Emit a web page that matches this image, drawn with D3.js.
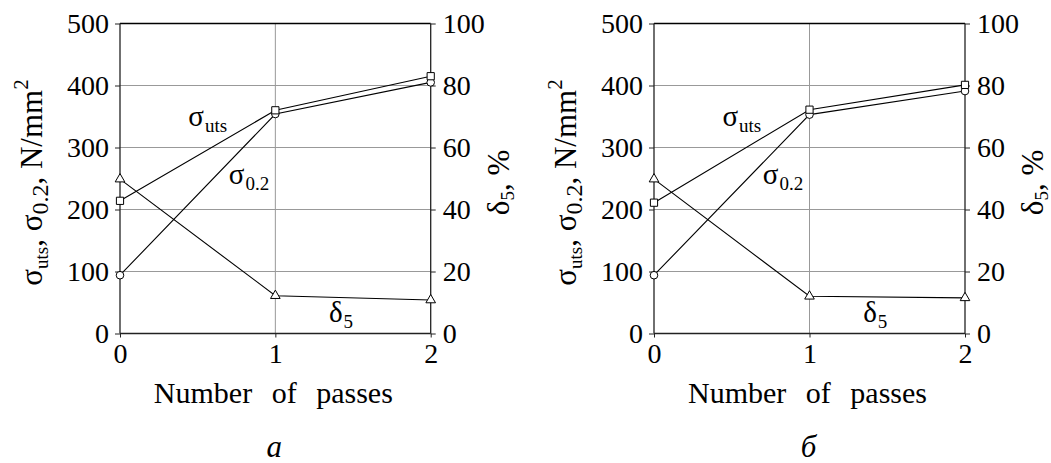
<!DOCTYPE html>
<html>
<head>
<meta charset="utf-8">
<script src="https://cdn.jsdelivr.net/npm/d3@7"></script>
</head>
<body style="margin:0">
<script>
// values
const passes = [0, 1, 2];
const passTicks = [0, 1, 2];
const stressTicks = [0, 100, 200, 300, 400, 500];
const elongTicks = [0, 20, 40, 60, 80, 100];

const utsA = [214, 360, 415];
const yieldA = [94, 354, 405];
const elongA = [49.8, 12.2, 10.8];

const utsB = [211, 361, 401];
const yieldB = [94, 353, 391];
const elongB = [49.8, 12.0, 11.5];

const panelLabels = ["а", "б"];

const FONT = "'Times New Roman', 'Liberation Serif', Tinos, serif";

function serif(sel, size) {
    return sel.style("font-family", FONT)
        .style("font-size", size + "px");
}

class PassesPanel {
    constructor(svg, left, right, uts, yld, elong, label) {
        this.svg = svg;
        this.top = 23.5;
        this.bottom = 333.5;
        this.uts = uts;
        this.yld = yld;
        this.elong = elong;
        this.label = label;

        this.x = d3.scaleLinear().domain([0, 2]).range([left, right]);
        this.y = d3.scaleLinear().domain([0, 500]).range([this.bottom, this.top]);
        this.y2 = d3.scaleLinear().domain([0, 100]).range([this.bottom, this.top]);

        this.render();
    }

    render() {
        let g = this.svg.append("g");
        let left = this.x.range()[0], right = this.x.range()[1];

        // grid
        g.selectAll(".hgrid")
            .data(stressTicks.filter(d => d > 0 && d < 500))
            .enter().append("line")
            .attr("x1", left).attr("x2", right)
            .attr("y1", d => this.y(d)).attr("y2", d => this.y(d))
            .attr("stroke", "#999").attr("stroke-width", 1);
        g.selectAll(".vgrid")
            .data(passTicks.filter(d => d > 0 && d < 2))
            .enter().append("line")
            .attr("x1", d => this.x(d)).attr("x2", d => this.x(d))
            .attr("y1", this.top).attr("y2", this.bottom)
            .attr("stroke", "#999").attr("stroke-width", 1);

        // frame top
        g.append("line")
            .attr("x1", left).attr("x2", right)
            .attr("y1", this.top).attr("y2", this.top)
            .attr("stroke", "#000").attr("stroke-width", 1.5);

        // axes
        let leftAxis = d3.axisLeft(this.y).tickValues(stressTicks).tickSize(5).tickPadding(6);
        let rightAxis = d3.axisRight(this.y2).tickValues(elongTicks).tickSize(5).tickPadding(7);
        let bottomAxis = d3.axisBottom(this.x).tickValues(passTicks).tickFormat(d3.format("d")).tickSize(4).tickPadding(8);

        let ga = g.append("g").attr("transform", "translate(" + left + ",0)").call(leftAxis);
        let gr = g.append("g").attr("transform", "translate(" + right + ",0)").call(rightAxis);
        let gb = g.append("g").attr("transform", "translate(0," + this.bottom + ")").call(bottomAxis);

        [ga, gr, gb].forEach(function (a) {
            a.attr("font-family", null).attr("font-size", null);
            a.select(".domain").attr("stroke", "#222").attr("stroke-width", 1.3);
            a.selectAll(".tick line").attr("stroke", "#222");
            serif(a.selectAll(".tick text").attr("fill", "#000"), 28);
        });
        ga.select(".domain").attr("d", "M0," + this.bottom + "V" + this.top);
        gr.select(".domain").attr("d", "M0," + this.bottom + "V" + this.top);
        gb.select(".domain").attr("d", "M" + left + ",0H" + right);
        gb.selectAll(".tick text").attr("dy", "0.62em");

        // series lines
        let line = d3.line()
            .x((d, i) => this.x(passes[i]))
            .y(d => this.y(d));
        let line2 = d3.line()
            .x((d, i) => this.x(passes[i]))
            .y(d => this.y2(d));

        [this.uts, this.yld].forEach(function (s) {
            g.append("path").attr("d", line(s))
                .attr("fill", "none").attr("stroke", "#000").attr("stroke-width", 1.1);
        });
        g.append("path").attr("d", line2(this.elong))
            .attr("fill", "none").attr("stroke", "#000").attr("stroke-width", 1.1);

        // markers
        let sq = d3.symbol().type(d3.symbolSquare).size(52);
        let tri = d3.symbol().type(d3.symbolTriangle).size(40);

        g.selectAll(".yld").data(this.yld).enter().append("circle")
            .attr("cx", (d, i) => this.x(passes[i]))
            .attr("cy", d => this.y(d))
            .attr("r", 3.8)
            .attr("fill", "white").attr("stroke", "#000").attr("stroke-width", 1);
        g.selectAll(".uts").data(this.uts).enter().append("path")
            .attr("d", sq)
            .attr("transform", (d, i) => "translate(" + this.x(passes[i]) + "," + this.y(d) + ")")
            .attr("fill", "white").attr("stroke", "#000").attr("stroke-width", 1);
        g.selectAll(".elong").data(this.elong).enter().append("path")
            .attr("d", tri)
            .attr("transform", (d, i) => "translate(" + this.x(passes[i]) + "," + this.y2(d) + ")")
            .attr("fill", "white").attr("stroke", "#000").attr("stroke-width", 1);

        // curve labels
        this.seriesLabel(g, 0.44, 334, "σ", "uts");
        this.seriesLabel(g, 0.70, 241, "σ", "0.2");
        this.seriesLabel(g, 1.345, 19, "δ", "5");

        // axis titles
        let cy = (this.top + this.bottom) / 2 + 4;
        let t1 = serif(g.append("text"), 31)
            .attr("transform", "translate(" + (left - 78) + "," + cy + ") rotate(-90)")
            .attr("text-anchor", "middle");
        t1.append("tspan").text("σ");
        t1.append("tspan").text("uts").attr("dy", 6).style("font-size", "19px");
        t1.append("tspan").text(", σ").attr("dy", -6);
        t1.append("tspan").text("0.2").attr("dy", 6).style("font-size", "24px");
        t1.append("tspan").text(", N/mm").attr("dy", -6);
        t1.append("tspan").text("2").attr("dy", -14).style("font-size", "21px");

        let t2 = serif(g.append("text"), 31)
            .attr("transform", "translate(" + (right + 78) + "," + cy + ") rotate(-90)")
            .attr("text-anchor", "middle");
        t2.append("tspan").text("δ");
        t2.append("tspan").text("5").attr("dy", 5).style("font-size", "19px");
        t2.append("tspan").text(", %").attr("dy", -5);

        serif(g.append("text"), 30)
            .attr("x", this.x(1) - 2)
            .attr("y", 403)
            .attr("text-anchor", "middle")
            .style("word-spacing", "12px")
            .text("Number of passes");

        serif(g.append("text"), 31)
            .attr("x", this.x(1) - 1)
            .attr("y", 457)
            .attr("text-anchor", "middle")
            .style("font-style", "italic")
            .text(this.label);
    }

    seriesLabel(g, px, val, sym, sub) {
        let t = serif(g.append("text"), 29)
            .attr("x", this.x(px))
            .attr("y", this.y(val));
        t.append("tspan").text(sym);
        t.append("tspan").text(sub).attr("dy", 6).attr("dx", 1).style("font-size", "19px");
    }
}

let svg = d3.select("body")
    .append("svg")
    .attr("width", 1051)
    .attr("height", 463)
    .style("display", "block")
    .style("font-family", FONT)
    .style("background-color", "white");

new PassesPanel(svg, 120, 430.7, utsA, yieldA, elongA, panelLabels[0]);
new PassesPanel(svg, 654, 965, utsB, yieldB, elongB, panelLabels[1]);
</script>
</body>
</html>
